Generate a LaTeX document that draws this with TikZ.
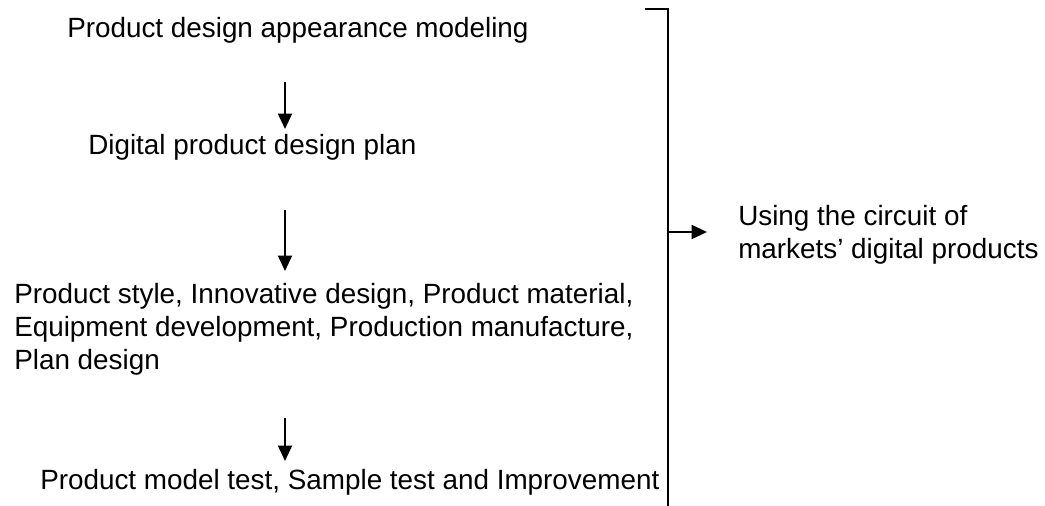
\documentclass[tikz,border=0pt]{standalone}
\usepackage{fontspec}
\setmainfont{Liberation Sans}
\usetikzlibrary{arrows.meta}
\tikzset{
  step text/.style={anchor=west, inner sep=0pt, align=left, font=\fontsize{19.8}{23.5}\selectfont},
  flow/.style={-{Triangle[length=11pt,width=10pt]}, line width=1.3pt}
}
\begin{document}
\begin{tikzpicture}[x=0.025cm, y=-0.025cm]
      \useasboundingbox (0,0) rectangle (1045,506);
      \draw
        (67,30) node[step text] (model){Product design appearance modeling}
        (88,147) node[step text] (plan){Digital product design plan}
        (14,329) node[step text] (style){Product style, Innovative design, Product material,\\Equipment development, Production manufacture,\\Plan design}
        (40,482) node[step text] (test){Product model test, Sample test and Improvement}
        (738,235) node[step text] (market){Using the circuit of\\markets' digital products};
      \coordinate (a1) at (285,82);
      \coordinate (b1) at (285,129);
      \coordinate (a2) at (285,210);
      \coordinate (b2) at (285,271);
      \coordinate (a3) at (285,418);
      \coordinate (b3) at (285,461);
      \coordinate (top) at (645,9);
      \coordinate (corner) at (668,9);
      \coordinate (bottom) at (668,506);
      \coordinate (mid) at (668,232);
      \coordinate (c1) at (707,232);
      \begin{scope}[line width=1.3pt]
        \draw[flow] (a1) to (b1);
        \draw[flow] (a2) to (b2);
        \draw[flow] (a3) to (b3);
        \draw (top) -- (corner) -- (bottom);
        \draw[flow] (mid) to (c1);
      \end{scope}
    \end{tikzpicture}
\end{document}
